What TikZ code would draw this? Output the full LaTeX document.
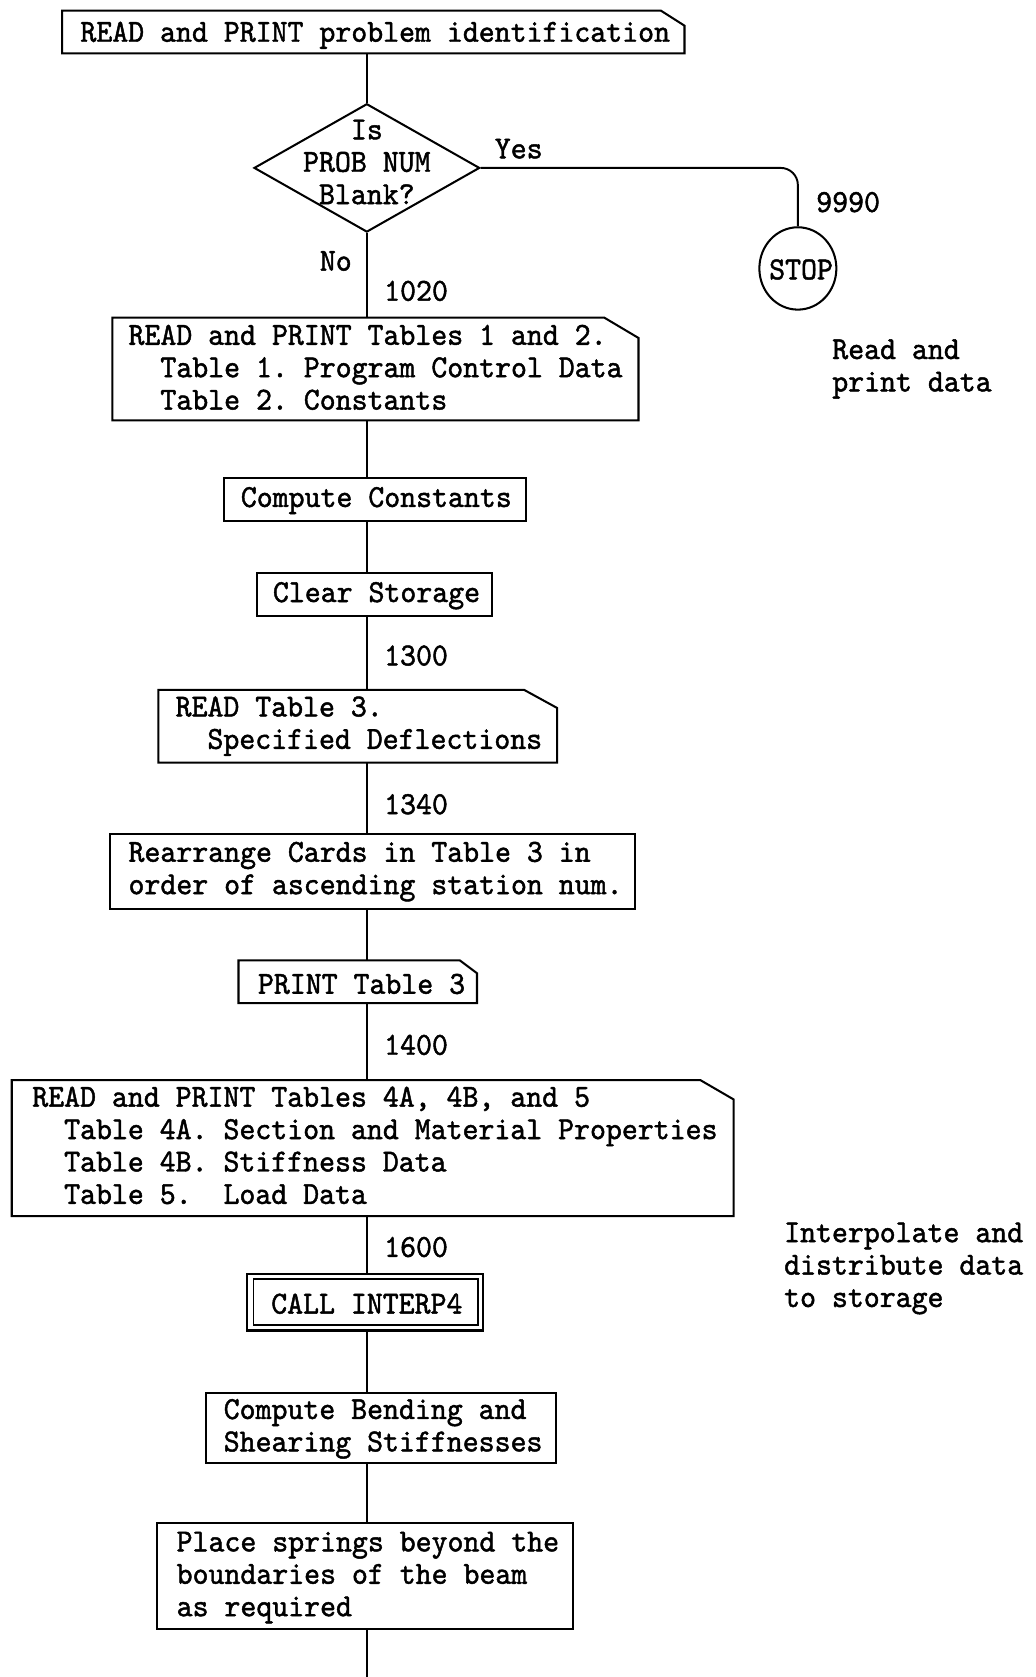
\documentclass[tikz,border=0pt]{standalone}
\usepackage{fontspec}
\setmonofont{lmmono10-regular.otf}[FakeStretch=0.946, FakeBold=1.4]
\usetikzlibrary{shapes.geometric,calc}
\tikzset{
  every node/.style={font=\ttfamily\fontsize{30}{30.3}\selectfont\frenchspacing},
  box/.style={draw=black, line width=1.9pt, inner sep=0pt},
  cbox/.style={draw=none, inner sep=0pt, outer sep=0pt},
  txt/.style={anchor=west, align=left, inner sep=0pt},
  lbl/.style={inner sep=0pt},
  flow/.style={draw=black, line width=1.8pt}
}
\newcommand\chamf[3]{\draw[line width=1.9pt, line join=miter] (#1.south west) -- (#1.north west) -- ([xshift=-#2pt]#1.north east) -- ([yshift=-#3pt]#1.north east) -- (#1.south east) -- cycle;}
\newcommand\ind{\hphantom{Ta}}
\begin{document}
\begin{tikzpicture}[x=1pt,y=-1pt]
\useasboundingbox (0,0) rectangle (968,1568);
% box 1
\node[cbox, minimum width=582pt, minimum height=40pt] (b1) at (349,30) {};
\chamf{b1}{22}{14}
\node[txt] (t1) at (75,33) {READ and PRINT problem identification};
% decision
\node[box, shape=diamond, minimum width=211pt, minimum height=120pt] (d) at (343,157) {};
\node[lbl, align=center] (dt) at (343,151.5) {Is\\PROB NUM\\Blank?};
\node[lbl] (yes) at (485,139) {Yes};
\node[box, ellipse, minimum width=72pt, minimum height=77pt] (stop) at (746,251) {};
\node[lbl] (stopt) at (749,252) {STOP};
\node[lbl] (l9990) at (793,189) {9990};
\node[lbl] (no) at (314,244) {No};
\node[lbl] (l1020) at (389,272) {1020};
\draw[flow, rounded corners=16pt] (d.east) -| (stop.north);
% box 2
\node[cbox, minimum width=492pt, minimum height=96pt] (b2) at (351,345) {};
\chamf{b2}{32}{19}
\node[txt] (t2) at (120,343.5) {READ and PRINT Tables 1 and 2.\\\ind Table 1. Program Control Data\\\ind Table 2. Constants};
\node[txt] (n1) at (778,345) {Read and\\print data};
% box 3
\node[box, minimum width=283pt, minimum height=40pt] (b3) at (350.5,467) {};
\node[txt] (t3) at (225,468) {Compute Constants};
% box 4
\node[box, minimum width=220pt, minimum height=40pt] (b4) at (350,556) {};
\node[txt] (t4) at (255,557) {Clear Storage};
\node[lbl] (l1300) at (389,613) {1300};
% box 5
\node[cbox, minimum width=373pt, minimum height=68pt] (b5) at (334.5,679) {};
\chamf{b5}{31}{17}
\node[txt] (t5) at (164,679) {READ Table 3.\\\ind Specified Deflections};
\node[lbl] (l1340) at (389,752) {1340};
% box 6
\node[box, minimum width=491pt, minimum height=70pt] (b6) at (348.5,815) {};
\node[txt] (t6) at (120,815) {Rearrange Cards in Table 3 in\\order of ascending station num.};
% box 7
\node[cbox, minimum width=223pt, minimum height=40pt] (b7) at (334.5,918) {};
\chamf{b7}{16}{12}
\node[txt] (t7) at (241,920) {PRINT Table 3};
\node[lbl] (l1400) at (389,977) {1400};
% box 8
\node[cbox, minimum width=675pt, minimum height=127pt] (b8) at (348.5,1073.5) {};
\chamf{b8}{31}{18}
\node[txt] (t8) at (30,1071) {READ and PRINT Tables 4A, 4B, and 5\\\ind Table 4A. Section and Material Properties\\\ind Table 4B. Stiffness Data\\\ind Table 5.\ \ Load Data};
\node[lbl] (l1600) at (389,1166) {1600};
\node[txt] (n2) at (733,1186) {Interpolate and\\distribute data\\to storage};
% box 9 (double)
\node[box, minimum width=221pt, minimum height=53pt] (b9) at (341.5,1217.5) {};
\draw[line width=1.6pt] ([shift={(7,6)}]b9.north west) rectangle ([shift={(-6,-6)}]b9.south east);
\node[lbl] (t9) at (343,1219) {CALL INTERP4};
% box 10
\node[box, minimum width=327pt, minimum height=66pt] (b10) at (356.5,1335) {};
\node[txt] (t10) at (209,1336) {Compute Bending and\\Shearing Stiffnesses};
% box 11
\node[box, minimum width=389pt, minimum height=99pt] (b11) at (341.5,1473.5) {};
\node[txt] (t11) at (165,1475) {Place springs beyond the\\boundaries of the beam\\as required};
\coordinate (end) at (343,1568);
% spine
\draw[flow] (b1.south -| d) -- (d.north);
\draw[flow] (d.south) -- (b2.north -| d);
\draw[flow] (b2.south -| d) -- (b3.north -| d);
\draw[flow] (b3.south -| d) -- (b4.north -| d);
\draw[flow] (b4.south -| d) -- (b5.north -| d);
\draw[flow] (b5.south -| d) -- (b6.north -| d);
\draw[flow] (b6.south -| d) -- (b7.north -| d);
\draw[flow] (b7.south -| d) -- (b8.north -| d);
\draw[flow] (b8.south -| d) -- (b9.north -| d);
\draw[flow] (b9.south -| d) -- (b10.north -| d);
\draw[flow] (b10.south -| d) -- (b11.north -| d);
\draw[flow] (b11.south -| d) -- (end);
\end{tikzpicture}
\end{document}
